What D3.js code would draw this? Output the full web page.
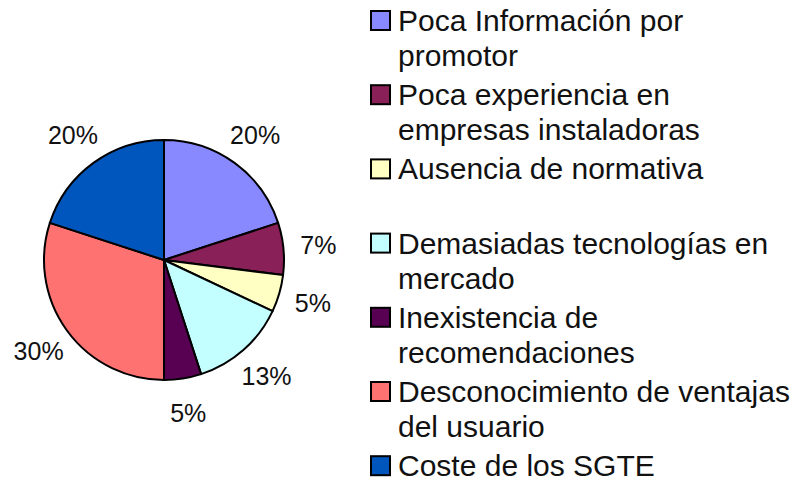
<!DOCTYPE html>
<html>
<head>
<meta charset="utf-8">
<script src="https://cdn.jsdelivr.net/npm/d3@7"></script>
<style>
  body { margin: 0; background: #fff; }
  text { font-family: "Liberation Sans", Arial, sans-serif; fill: #111; }
</style>
</head>
<body>
<div id="my_pie"></div>
<script>
// data
const categories = [
  ["Poca Información por", "promotor"],
  ["Poca experiencia en", "empresas instaladoras"],
  ["Ausencia de normativa"],
  ["Demasiadas tecnologías en", "mercado"],
  ["Inexistencia de", "recomendaciones"],
  ["Desconocimiento de ventajas", "del usuario"],
  ["Coste de los SGTE"]
];
const values = [20, 7, 5, 13, 5, 30, 20];
const colors = ["#8888FF", "#8A2058", "#FFFFC4", "#C4FFFF", "#580052", "#FF7272", "#0056BC"];

const width = 797, height = 483;

const svg = d3.select("#my_pie")
  .append("svg")
    .attr("width", width)
    .attr("height", height);

// pie
const cx = 164, cy = 260, radius = 120;

const pie = d3.pie().sort(null).value(d => d);
const arcs = pie(values);

const arc = d3.arc().innerRadius(0).outerRadius(radius);
const labelArc = d3.arc().innerRadius(155).outerRadius(155);

const g = svg.append("g")
  .attr("transform", `translate(${cx}, ${cy})`);

g.selectAll("path")
  .data(arcs)
  .join("path")
    .attr("d", arc)
    .attr("fill", (d, i) => colors[i])
    .attr("stroke", "#000")
    .attr("stroke-width", 2)
    .attr("stroke-linejoin", "round");

g.selectAll("text.pct")
  .data(arcs)
  .join("text")
    .attr("class", "pct")
    .attr("transform", d => `translate(${labelArc.centroid(d)})`)
    .attr("text-anchor", "middle")
    .attr("dy", "0.36em")
    .style("font-size", "25px")
    .text(d => d.value + "%");

// legend
const legendX = 370, firstBase = 31, slot = 74.2, lineGap = 35;

const legend = svg.selectAll("g.item")
  .data(categories)
  .join("g")
    .attr("class", "item")
    .attr("transform", (d, i) => `translate(${legendX}, ${firstBase + i * slot})`);

legend.append("rect")
  .attr("x", 1)
  .attr("y", -20)
  .attr("width", 19)
  .attr("height", 19)
  .attr("fill", (d, i) => colors[i])
  .attr("stroke", "#000")
  .attr("stroke-width", 2);

legend.append("text")
  .attr("x", 28)
  .style("font-size", "30px")
  .selectAll("tspan")
  .data(d => d)
  .join("tspan")
    .attr("x", 28)
    .attr("y", (d, i) => i * lineGap)
    .text(d => d);
</script>
</body>
</html>
